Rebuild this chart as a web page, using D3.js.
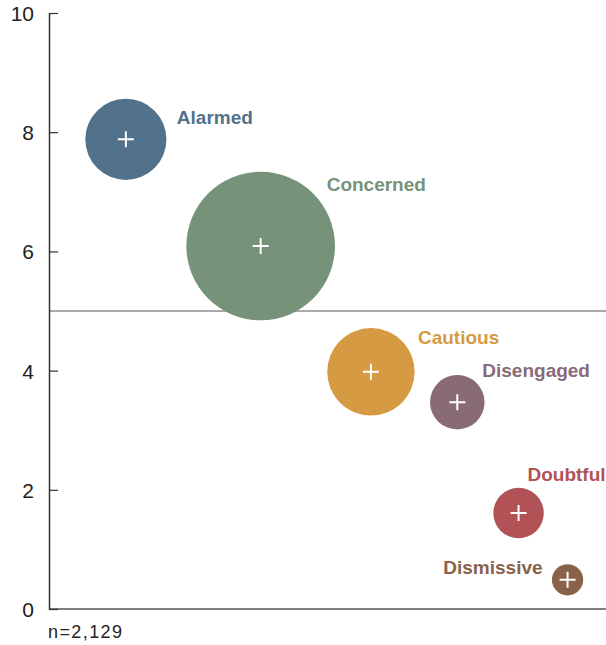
<!DOCTYPE html>
<html>
<head>
<meta charset="utf-8">
<script src="https://cdn.jsdelivr.net/npm/d3@7"></script>
<style>
  body { margin: 0; background: #fff; }
  svg { display: block; font-family: "Liberation Sans", Arial, Helvetica, sans-serif; }
</style>
</head>
<body>
<div id="chart"></div>
<script>
// Segments
const segments = ["Alarmed", "Concerned", "Cautious", "Disengaged", "Doubtful", "Dismissive"];
const xValues = [1.38, 3.80, 5.78, 7.33, 8.43, 9.31];
const yValues = [7.88, 6.09, 3.98, 3.47, 1.61, 0.49];
// bubble size (share of sample)
const shares = [15.5, 52, 18, 7, 6, 2.3];
const colors = ["#52718a", "#76937a", "#d69a43", "#896b77", "#b05256", "#8a6249"];
const yTicks = [0, 2, 4, 6, 8, 10];
const sampleNote = "n=2,129";

// label placement relative to bubble centre (layout only)
const labelPlace = [
  {dx: 51, dy: -15, anchor: "start"},
  {dx: 66, dy: -55, anchor: "start"},
  {dx: 47, dy: -28, anchor: "start"},
  {dx: 25, dy: -25, anchor: "start"},
  {dx: 87, dy: -32, anchor: "end"},
  {dx: -25, dy: -6, anchor: "end"}
];

const width = 606, height = 645;
const margin = {top: 13, right: 0, bottom: 36, left: 49};

const svg = d3.select("#chart")
  .append("svg")
    .attr("width", width)
    .attr("height", height);

const x = d3.scaleLinear()
  .domain([0, 10])
  .range([margin.left, width - margin.right]);

const y = d3.scaleLinear()
  .domain([0, 10])
  .range([height - margin.bottom, margin.top]);

const r = d3.scaleSqrt()
  .domain([0, d3.max(shares)])
  .range([0, 74.3]);

const data = segments.map((name, i) => ({
  name: name,
  x: xValues[i],
  y: yValues[i],
  share: shares[i],
  color: colors[i],
  place: labelPlace[i]
}));

// midpoint reference line at 5
svg.append("line")
  .attr("x1", x(0))
  .attr("x2", x(10))
  .attr("y1", y(5))
  .attr("y2", y(5))
  .attr("stroke", "#aaa")
  .attr("stroke-width", 2);

// bottom baseline
svg.append("line")
  .attr("x1", x(0))
  .attr("x2", x(10))
  .attr("y1", y(0))
  .attr("y2", y(0))
  .attr("stroke", "#555")
  .attr("stroke-width", 1.5);

// y axis, ticks pointing inward
const yAxis = svg.append("g")
  .attr("transform", `translate(${x(0)},0)`)
  .call(d3.axisRight(y).tickValues(yTicks).tickSize(9).tickSizeOuter(0).tickFormat(d3.format("d")));

yAxis.select(".domain").attr("stroke", "#333").attr("stroke-width", 1.5);
yAxis.selectAll(".tick line").attr("stroke", "#333").attr("stroke-width", 1.2);
yAxis.selectAll(".tick text")
  .attr("x", -15)
  .attr("dy", "0.36em")
  .attr("text-anchor", "end")
  .attr("fill", "#222")
  .style("font-size", "21px")
  .style("font-family", "\"Liberation Sans\", Arial, sans-serif");

// bubbles
const bubbles = svg.selectAll(".bubble")
  .data(data)
  .join("g")
    .attr("class", "bubble")
    .attr("transform", d => `translate(${x(d.x)},${y(d.y)})`);

bubbles.append("circle")
  .attr("r", d => r(d.share))
  .attr("fill", d => d.color);

// white cross marking the centre
const arm = 8;
bubbles.append("path")
  .attr("d", `M${-arm},0H${arm}M0,${-arm}V${arm}`)
  .attr("stroke", "#fff")
  .attr("stroke-width", 2);

// segment labels
bubbles.append("text")
  .attr("x", d => d.place.dx)
  .attr("y", d => d.place.dy)
  .attr("text-anchor", d => d.place.anchor)
  .attr("fill", d => d.color)
  .style("font-size", "19px")
  .style("font-weight", "bold")
  .text(d => d.name);

// sample size note
svg.append("text")
  .attr("x", x(0) - 1)
  .attr("y", 638)
  .attr("fill", "#222")
  .style("font-size", "18px")
  .style("letter-spacing", "1.4px")
  .text(sampleNote);
</script>
</body>
</html>
